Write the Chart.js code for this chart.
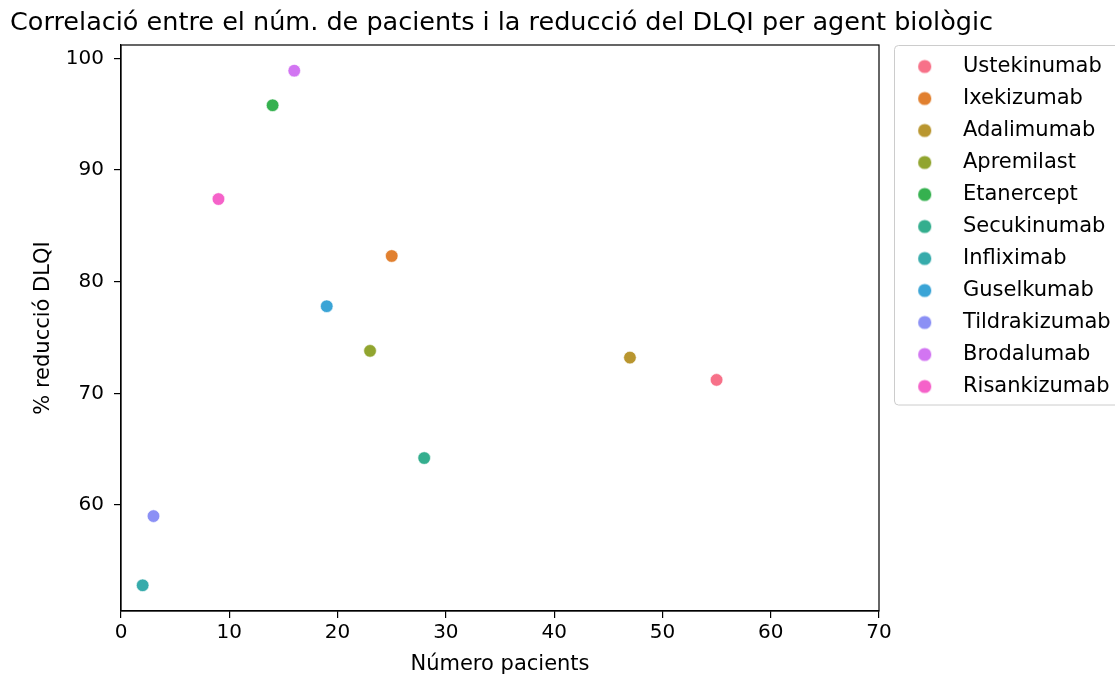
<!DOCTYPE html>
<html>
<head>
<meta charset="utf-8">
<script src="https://cdn.jsdelivr.net/npm/chart.js@4"></script>
<style>
  html, body { margin: 0; padding: 0; background: #ffffff; }
  #wrap { width: 1115px; height: 677px; }
</style>
</head>
<body>
<div id="wrap"><canvas id="c" width="1115" height="677"></canvas></div>
<script>
const agents = ["Ustekinumab", "Ixekizumab", "Adalimumab", "Apremilast", "Etanercept", "Secukinumab", "Infliximab", "Guselkumab", "Tildrakizumab", "Brodalumab", "Risankizumab"];
const pacients = [55, 25, 47, 23, 14, 28, 2, 19, 3, 16, 9];
const reduccio = [71.2, 82.3, 73.2, 73.8, 95.8, 64.2, 52.8, 77.8, 59.0, 98.9, 87.4];
const colors = ["#f77189", "#e1802f", "#b9962f", "#91a52f", "#35b14f", "#34ae8e", "#36abab", "#3aa4d6", "#8b90f5", "#d275f2", "#f562c9"];
const xTicks = [0, 10, 20, 30, 40, 50, 60, 70];
const yTicks = [60, 70, 80, 90, 100];

const FONT = "'DejaVu Sans', sans-serif";
const LEG_FONT = 21;
const LEG_PAD = 11;
const LEG_BOXW = 62.5;
const PLOT_RIGHT = 879;

// measure longest legend label to size the right padding
const mctx = document.createElement("canvas").getContext("2d");
mctx.font = LEG_FONT + "px " + FONT;
const maxLabelW = Math.max(...agents.map(a => mctx.measureText(a).width));
const legendW = LEG_PAD + LEG_BOXW + LEG_FONT / 2 + maxLabelW + 10;
const padRight = (1115 - PLOT_RIGHT) - legendW;

// legend marker images (circle offset to the right inside a wider box)
function markerImage(color) {
  const cv = document.createElement("canvas");
  cv.width = 40; cv.height = 16;
  const g = cv.getContext("2d");
  g.fillStyle = color;
  g.beginPath();
  g.arc(23.5, 8, 6.6, 0, Math.PI * 2);
  g.fill();
  return cv;
}
const markers = colors.map(markerImage);

const datasets = agents.map((a, i) => ({
  label: a,
  data: [{ x: pacients[i], y: reduccio[i] }],
  backgroundColor: colors[i],
  borderColor: "#ffffff",
  borderWidth: 0.6,
  pointRadius: 6.3,
  pointHoverRadius: 6.3
}));

const framePlugin = {
  id: "frame",
  afterDraw(chart) {
    const ctx = chart.ctx;
    const a = chart.chartArea;
    ctx.save();
    ctx.strokeStyle = "#000000";
    ctx.lineWidth = 1.2;
    ctx.strokeRect(a.left, a.top, a.right - a.left, a.bottom - a.top);
    const lg = chart.legend;
    if (lg && lg.legendHitBoxes && lg.legendHitBoxes.length) {
      const hb = lg.legendHitBoxes;
      ctx.strokeStyle = "#cccccc";
      ctx.lineWidth = 1;
      const x = 894.5, y = a.top + 0.5;
      const w = 1125 - x;
      const h = (hb[hb.length - 1].top + hb[hb.length - 1].height + 8) - y;
      const r = 4;
      ctx.beginPath();
      ctx.moveTo(x + r, y);
      ctx.lineTo(x + w - r, y);
      ctx.quadraticCurveTo(x + w, y, x + w, y + r);
      ctx.lineTo(x + w, y + h - r);
      ctx.quadraticCurveTo(x + w, y + h, x + w - r, y + h);
      ctx.lineTo(x + r, y + h);
      ctx.quadraticCurveTo(x, y + h, x, y + h - r);
      ctx.lineTo(x, y + r);
      ctx.quadraticCurveTo(x, y, x + r, y);
      ctx.stroke();
    }
    ctx.restore();
  }
};

new Chart(document.getElementById("c"), {
  type: "scatter",
  data: { datasets },
  options: {
    responsive: false,
    animation: false,
    layout: { padding: { left: 10, right: padRight, top: 0, bottom: 0 } },
    plugins: {
      title: {
        display: true,
        text: "Correlació entre el núm. de pacients i la reducció del DLQI per agent biològic",
        align: "start",
        color: "#000000",
        font: { family: FONT, size: 25.5, weight: "normal", lineHeight: 1.2 },
        padding: { top: 8, bottom: 6.4 }
      },
      legend: {
        position: "right",
        align: "start",
        fullSize: false,
        labels: {
          usePointStyle: true,
          pointStyleWidth: LEG_BOXW,
          boxHeight: 14,
          padding: LEG_PAD,
          color: "#000000",
          font: { family: FONT, size: LEG_FONT },
          generateLabels(chart) {
            const items = Chart.defaults.plugins.legend.labels.generateLabels(chart);
            items.forEach((it, i) => { it.pointStyle = markers[i]; it.lineWidth = 0; });
            return items;
          }
        }
      },
      tooltip: { enabled: false }
    },
    scales: {
      x: {
        type: "linear",
        min: 0,
        max: 70,
        afterBuildTicks(axis) { axis.ticks = xTicks.map(v => ({ value: v })); },
        afterFit(axis) { axis.height = 66; },
        grid: { display: true, drawOnChartArea: false, drawTicks: true, tickLength: 7, color: "#000000", lineWidth: 1.2 },
        border: { display: true, color: "#000000", width: 1.2 },
        ticks: { color: "#000000", font: { family: FONT, size: 20 }, padding: 3, maxRotation: 0 },
        title: { display: true, text: "Número pacients", color: "#000000", font: { family: FONT, size: 21 }, padding: { top: 0, bottom: 0 } }
      },
      y: {
        type: "linear",
        min: 50.5,
        max: 101.2,
        afterBuildTicks(axis) { axis.ticks = yTicks.map(v => ({ value: v })); },
        afterFit(axis) { axis.width = 111; },
        grid: { display: true, drawOnChartArea: false, drawTicks: true, tickLength: 7, color: "#000000", lineWidth: 1.2 },
        border: { display: true, color: "#000000", width: 1.2 },
        ticks: { color: "#000000", font: { family: FONT, size: 20 }, padding: 10 },
        title: { display: true, text: "% reducció DLQI", color: "#000000", font: { family: FONT, size: 21 }, padding: { top: 21.4, bottom: 0 } }
      }
    }
  },
  plugins: [framePlugin]
});
</script>
</body>
</html>
